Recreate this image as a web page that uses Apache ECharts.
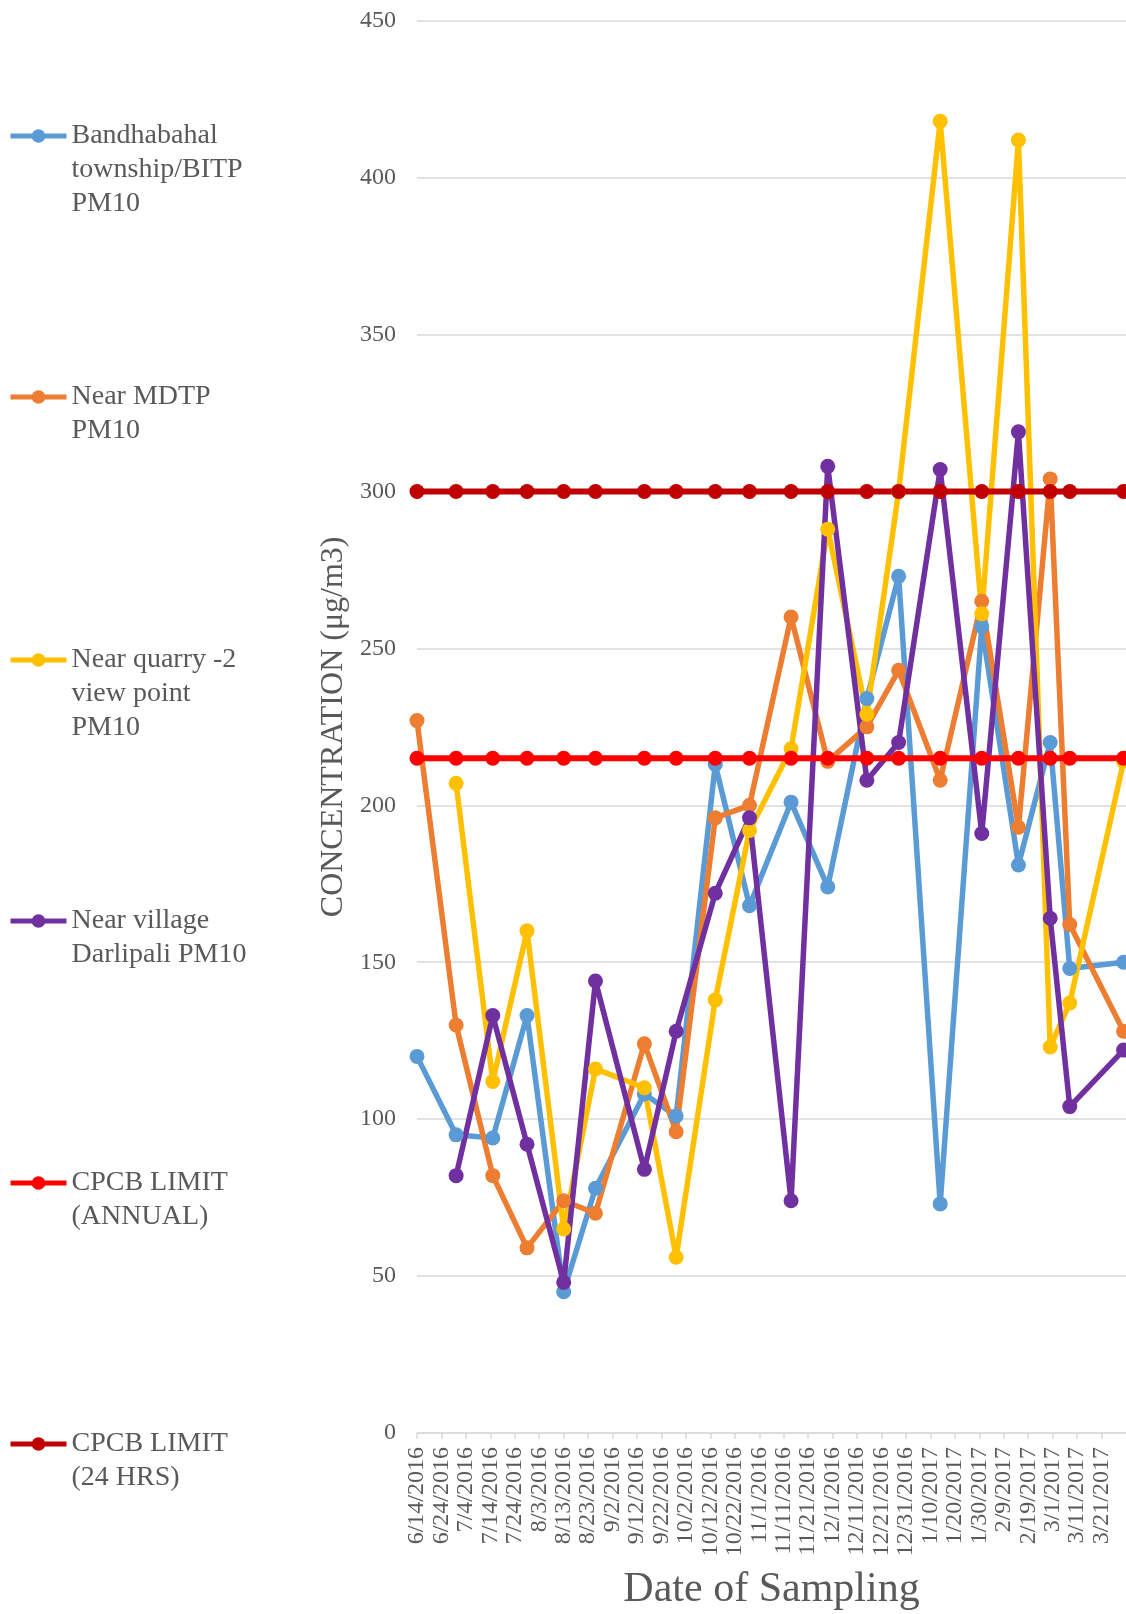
<!DOCTYPE html>
<html>
<head>
<meta charset="utf-8">
<script src="https://cdn.jsdelivr.net/npm/echarts@6/dist/echarts.min.js"></script>
<style>
html,body{margin:0;padding:0;background:#fff;}
#chart{width:1126px;height:1614px;}
</style>
</head>
<body>
<div id="chart"></div>
<script>
// ---- data ----
const dates = ['6/14/2016','6/30/2016','7/15/2016','7/29/2016','8/13/2016','8/26/2016','9/15/2016','9/28/2016','10/14/2016','10/28/2016','11/14/2016','11/29/2016','12/15/2016','12/28/2016','1/14/2017','1/31/2017','2/15/2017','2/28/2017','3/8/2017','3/30/2017'];
const bandhabahal = [120,95,94,133,45,78,108,101,213,168,201,174,234,273,73,257,181,220,148,150];
const nearMDTP    = [227,130,82,59,74,70,124,96,196,200,260,214,225,243,208,265,193,304,162,128];
const nearQuarry  = [null,207,112,160,65,116,110,56,138,192,218,288,229,300,418,261,412,123,137,214];
const nearVillage = [null,82,133,92,48,144,84,128,172,196,74,308,208,220,307,191,319,164,104,122];
const cpcbAnnual  = [215,215,215,215,215,215,215,215,215,215,215,215,215,215,215,215,215,215,215,215];
const cpcb24      = [300,300,300,300,300,300,300,300,300,300,300,300,300,300,300,300,300,300,300,300];
const axisStart = '6/14/2016';
const axisEnd = '3/31/2017';
const yTicks = [0,50,100,150,200,250,300,350,400,450];

const seriesNames = ['Bandhabahal township/BITP PM10','Near MDTP PM10','Near quarry -2 view point PM10','Near village Darlipali PM10','CPCB LIMIT (ANNUAL)','CPCB LIMIT (24 HRS)'];
const legendLabels = ['Bandhabahal\ntownship/BITP\nPM10','Near MDTP\nPM10','Near quarry -2\nview point\nPM10','Near village\nDarlipali PM10','CPCB LIMIT\n(ANNUAL)','CPCB LIMIT\n(24 HRS)'];
const colors = ['#5B9BD5','#ED7D31','#FFC000','#7030A0','#FF0000','#C00000'];
const values = [bandhabahal, nearMDTP, nearQuarry, nearVillage, cpcbAnnual, cpcb24];

// ---- helpers ----
function toUTC(s){const p=s.split('/').map(Number);return Date.UTC(p[2],p[0]-1,p[1]);}
const DAY = 86400000;
const t0 = toUTC(axisStart);
const dayOf = s => Math.round((toUTC(s)-t0)/DAY);
function fmtDay(v){const d=new Date(t0+v*DAY);return (d.getUTCMonth()+1)+'/'+d.getUTCDate()+'/'+d.getUTCFullYear();}

const FONT = 'Liberation Serif';
const TXT = '#595959';

const series = values.map((arr,i)=>({
  name: seriesNames[i],
  type: 'line',
  data: arr.map((v,j)=> v==null ? null : [dayOf(dates[j]), v]).filter(d=>d!==null),
  symbol: 'circle',
  symbolSize: 15,
  showAllSymbol: true,
  lineStyle: {width: i>=4 ? 6 : 5.5, color: colors[i]},
  itemStyle: {color: colors[i]},
  emphasis: {disabled: true}
}));

const legendCenters = [136,397,660,921,1183,1444];
const LH = 34;
const legends = seriesNames.map((n,i)=>{
  const lines = legendLabels[i].split('\n').length;
  // prepend empty lines so that the first text line sits at the icon's centre
  const label = '\n'.repeat(lines-1) + legendLabels[i];
  return {
    data: [n],
    left: 8,
    top: legendCenters[i] - (2*lines-1)*LH/2,
    orient: 'vertical',
    padding: 0,
    itemWidth: 56,
    itemHeight: 17,
    selectedMode: false,
    lineStyle: {width: 5},
    formatter: () => label,
    textStyle: {fontFamily: FONT, fontSize: 28, color: TXT, lineHeight: LH}
  };
});

const chart = echarts.init(document.getElementById('chart'), null, {renderer:'canvas'});
chart.setOption({
  animation: false,
  backgroundColor: '#fff',
  color: colors,
  legend: legends,
  grid: {left: 417, right: 0, top: 20.7, bottom: 181, containLabel: false, outerBoundsMode: 'none'},
  xAxis: {
    type: 'value',
    min: 0,
    max: dayOf(axisEnd),
    interval: 10,
    name: 'Date of Sampling',
    nameLocation: 'middle',
    nameGap: 136,
    nameTextStyle: {fontFamily: FONT, fontSize: 42, color: TXT},
    axisLine: {show: true, lineStyle: {color: '#D9D9D9', width: 1.5}},
    axisTick: {show: true, length: 6, lineStyle: {color: '#D9D9D9', width: 1.5}},
    splitLine: {show: false},
    axisLabel: {
      rotate: 90, margin: 14, fontFamily: FONT, fontSize: 24, color: TXT,
      showMaxLabel: false,
      formatter: v => fmtDay(v)
    }
  },
  yAxis: {
    type: 'value',
    min: yTicks[0],
    max: yTicks[yTicks.length-1],
    interval: yTicks[1]-yTicks[0],
    name: 'CONCENTRATION (μg/m3)',
    nameLocation: 'middle',
    nameGap: 64,
    nameTextStyle: {fontFamily: FONT, fontSize: 32, color: TXT},
    axisLine: {show: false},
    axisTick: {show: false},
    splitLine: {show: true, lineStyle: {color: '#D9D9D9', width: 1.5}},
    axisLabel: {margin: 21, fontFamily: FONT, fontSize: 24, color: TXT}
  },
  series: series
});
</script>
</body>
</html>
